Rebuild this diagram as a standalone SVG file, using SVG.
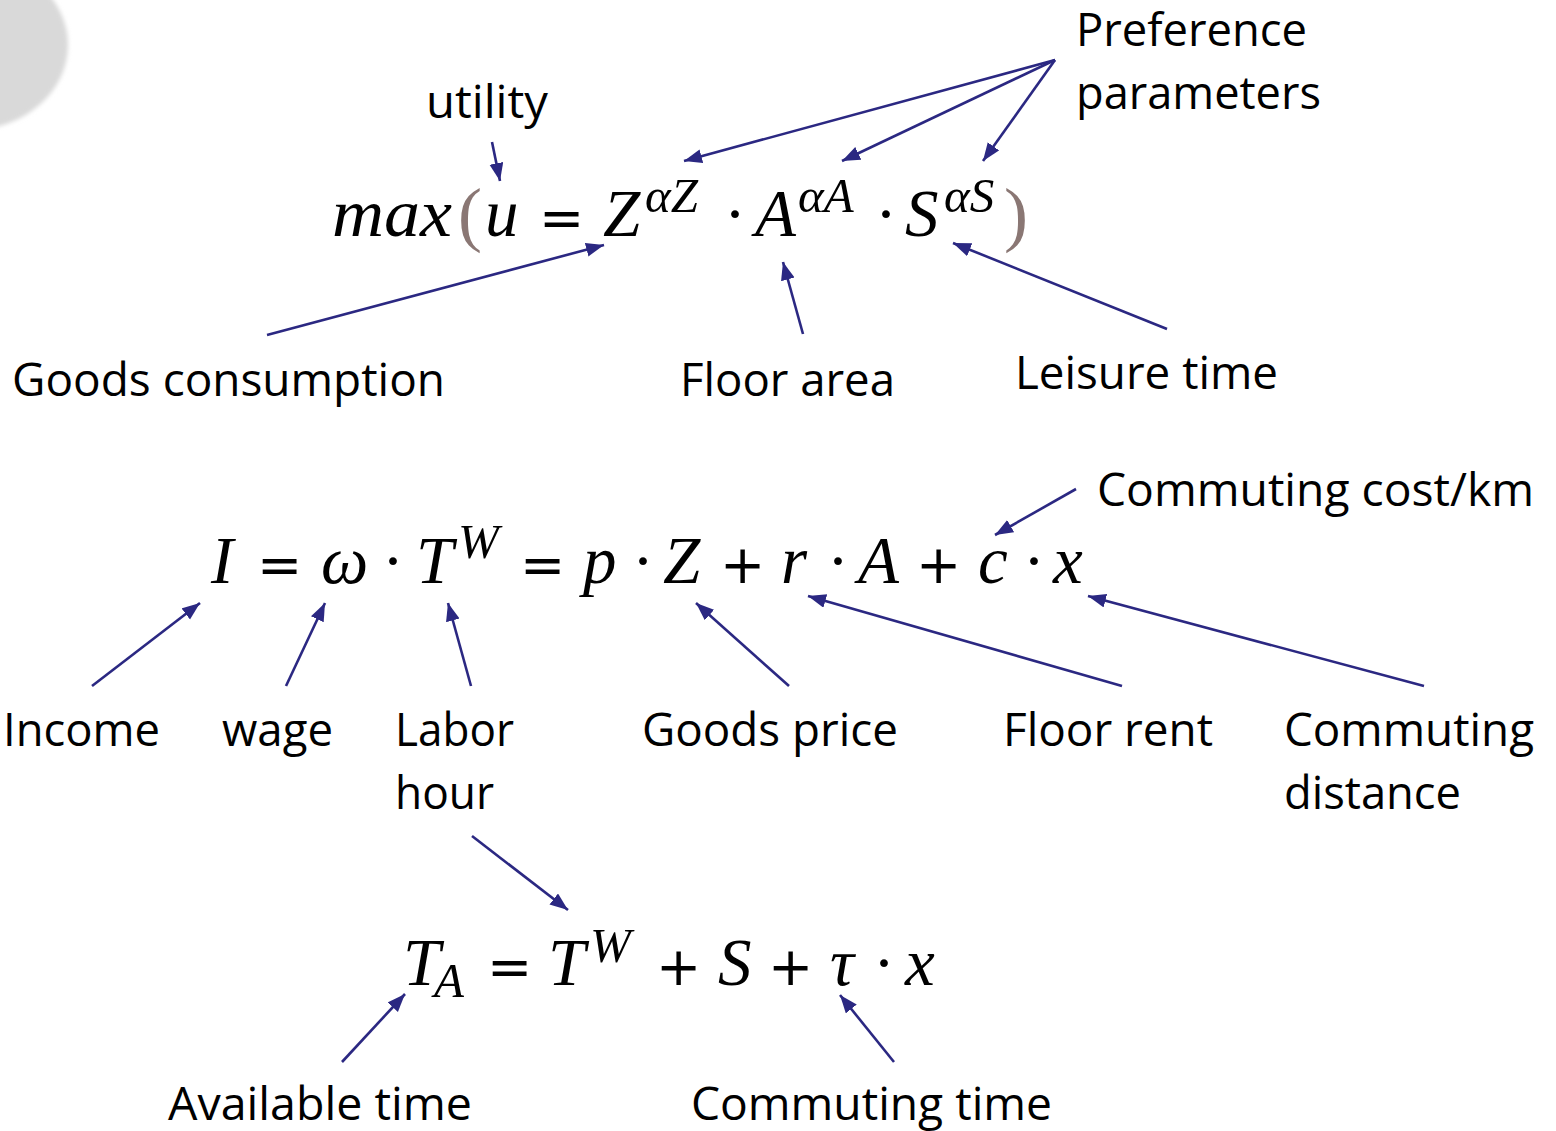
<svg xmlns="http://www.w3.org/2000/svg" width="1556" height="1131" viewBox="0 0 1556 1131">
<style>
.lbl{font-family:"Open Sans","Noto Sans",sans-serif;font-size:46px;fill:#000}
.m{font-family:"Liberation Serif","DejaVu Serif",serif;font-style:italic;font-size:67px;fill:#000}
.mu{font-family:"Liberation Serif","DejaVu Serif",serif;font-style:normal;font-size:66px;fill:#000}
.op{font-family:"DejaVu Sans",sans-serif;font-style:normal;font-size:54px;fill:#000}
.sup{font-family:"Liberation Serif","DejaVu Serif",serif;font-style:italic;font-size:49px;fill:#000}
.par{font-family:"Liberation Serif","DejaVu Serif",serif;font-size:72px;fill:#8a7774}
.arr{stroke:#2b2882;stroke-width:2.6;fill:none;marker-end:url(#ah)}
</style>
<defs>
<marker id="ah" markerUnits="userSpaceOnUse" markerWidth="20" markerHeight="16" refX="18" refY="7" orient="auto">
<path d="M0,0 L18,7 L0,14 z" fill="#2b2882"/>
</marker>
<filter id="blur" x="-20%" y="-20%" width="140%" height="140%"><feGaussianBlur stdDeviation="2"/></filter>
</defs>
<rect width="1556" height="1131" fill="#fff"/>
<ellipse cx="-30" cy="45" rx="98" ry="85" fill="#d9d9d9" filter="url(#blur)"/>

<g id="eq1">
<text class="m" y="236"><tspan x="332" textLength="120" lengthAdjust="spacingAndGlyphs">max</tspan></text>
<text class="par" x="458" y="238">(</text>
<text class="m" x="485" y="236">u</text>
<text class="op" x="539" y="236">=</text>
<text class="m" x="603" y="236">Z</text>
<text class="sup" x="645" y="212">αZ</text>
<text class="mu" x="724" y="236">·</text>
<text class="m" x="755" y="236">A</text>
<text class="sup" x="798" y="212">αA</text>
<text class="mu" x="875" y="236">·</text>
<text class="m" x="905" y="236">S</text>
<text class="sup" x="944" y="212">αS</text>
<text class="par" x="1004" y="238">)</text>
</g>

<g id="eq2">
<text class="m" x="211" y="583">I</text>
<text class="op" x="257" y="583">=</text>
<text class="m" x="321" y="583">ω</text>
<text class="mu" x="382" y="583">·</text>
<text class="m" x="416" y="583">T</text>
<text class="sup" x="458" y="558">W</text>
<text class="op" x="520" y="583">=</text>
<text class="m" x="583" y="583">p</text>
<text class="mu" x="632" y="583">·</text>
<text class="m" x="663" y="583">Z</text>
<text class="op" x="720" y="583">+</text>
<text class="m" x="781" y="583">r</text>
<text class="mu" x="827" y="583">·</text>
<text class="m" x="858" y="583">A</text>
<text class="op" x="916" y="583">+</text>
<text class="m" x="978" y="583">c</text>
<text class="mu" x="1023" y="583">·</text>
<text class="m" x="1053" y="583">x</text>
</g>

<g id="eq3">
<text class="m" x="403" y="985">T</text>
<text class="sup" x="434" y="997">A</text>
<text class="op" x="487" y="985">=</text>
<text class="m" x="548" y="985">T</text>
<text class="sup" x="590" y="962">W</text>
<text class="op" x="656" y="985">+</text>
<text class="m" x="718" y="985">S</text>
<text class="op" x="768" y="985">+</text>
<text class="m" x="830" y="985">τ</text>
<text class="mu" x="873" y="985">·</text>
<text class="m" x="905" y="985">x</text>
</g>

<g id="label-utility"><text class="lbl" x="426" y="118" textLength="122" lengthAdjust="spacingAndGlyphs">utility</text></g>
<g id="label-preference"><text class="lbl" x="1076" y="46" textLength="231" lengthAdjust="spacingAndGlyphs">Preference</text><text class="lbl" x="1076" y="109" textLength="245" lengthAdjust="spacingAndGlyphs">parameters</text></g>
<g id="label-goods-consumption"><text class="lbl" x="12" y="396" textLength="433" lengthAdjust="spacingAndGlyphs">Goods consumption</text></g>
<g id="label-floor-area"><text class="lbl" x="680" y="396" textLength="215" lengthAdjust="spacingAndGlyphs">Floor area</text></g>
<g id="label-leisure-time"><text class="lbl" x="1015" y="389" textLength="263" lengthAdjust="spacingAndGlyphs">Leisure time</text></g>
<g id="label-commuting-cost"><text class="lbl" x="1097" y="506" textLength="437" lengthAdjust="spacingAndGlyphs">Commuting cost/km</text></g>
<g id="label-income"><text class="lbl" x="3" y="746" textLength="157" lengthAdjust="spacingAndGlyphs">Income</text></g>
<g id="label-wage"><text class="lbl" x="222" y="746" textLength="111" lengthAdjust="spacingAndGlyphs">wage</text></g>
<g id="label-labor-hour"><text class="lbl" x="395" y="746" textLength="119" lengthAdjust="spacingAndGlyphs">Labor</text><text class="lbl" x="395" y="809" textLength="99" lengthAdjust="spacingAndGlyphs">hour</text></g>
<g id="label-goods-price"><text class="lbl" x="642" y="746" textLength="256" lengthAdjust="spacingAndGlyphs">Goods price</text></g>
<g id="label-floor-rent"><text class="lbl" x="1003" y="746" textLength="210" lengthAdjust="spacingAndGlyphs">Floor rent</text></g>
<g id="label-commuting-distance"><text class="lbl" x="1284" y="746" textLength="250" lengthAdjust="spacingAndGlyphs">Commuting</text><text class="lbl" x="1284" y="809" textLength="177" lengthAdjust="spacingAndGlyphs">distance</text></g>
<g id="label-available-time"><text class="lbl" x="168" y="1120" textLength="304" lengthAdjust="spacingAndGlyphs">Available time</text></g>
<g id="label-commuting-time"><text class="lbl" x="691" y="1120" textLength="361" lengthAdjust="spacingAndGlyphs">Commuting time</text></g>

<g id="connectors">
<line class="arr" x1="492" y1="142" x2="500" y2="181"/>
<line class="arr" x1="1055" y1="60" x2="684" y2="161"/>
<line class="arr" x1="1055" y1="60" x2="842" y2="161"/>
<line class="arr" x1="1055" y1="60" x2="983" y2="161"/>
<line class="arr" x1="267" y1="335" x2="604" y2="245"/>
<line class="arr" x1="803" y1="334" x2="783" y2="262"/>
<line class="arr" x1="1167" y1="329" x2="953" y2="243"/>
<line class="arr" x1="1076" y1="489" x2="995" y2="535"/>
<line class="arr" x1="92" y1="686" x2="200" y2="603"/>
<line class="arr" x1="286" y1="686" x2="325" y2="603"/>
<line class="arr" x1="471" y1="686" x2="448" y2="603"/>
<line class="arr" x1="789" y1="686" x2="696" y2="603"/>
<line class="arr" x1="1122" y1="686" x2="808" y2="596"/>
<line class="arr" x1="1424" y1="686" x2="1088" y2="596"/>
<line class="arr" x1="472" y1="836" x2="568" y2="910"/>
<line class="arr" x1="342" y1="1062" x2="405" y2="994"/>
<line class="arr" x1="894" y1="1062" x2="840" y2="995"/>
</g>
</svg>
